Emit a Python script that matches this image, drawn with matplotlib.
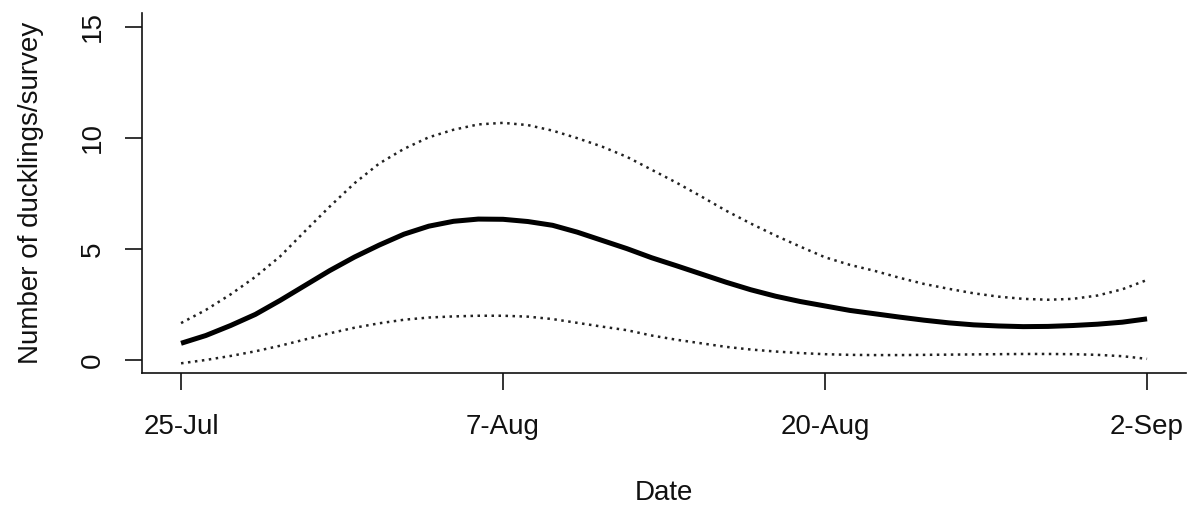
import matplotlib
matplotlib.use("Agg")
import matplotlib.pyplot as plt

# Days since 25 July at which the fitted curves were evaluated
days = list(range(0, 40))

# Fitted number of ducklings per survey
fit = [0.75, 1.10, 1.55, 2.05, 2.68, 3.35, 4.02, 4.63, 5.17, 5.66,
       6.02, 6.24, 6.34, 6.33, 6.23, 6.06, 5.75, 5.38, 5.01, 4.60,
       4.24, 3.87, 3.50, 3.16, 2.87, 2.63, 2.43, 2.23, 2.08, 1.93,
       1.79, 1.67, 1.58, 1.53, 1.50, 1.51, 1.55, 1.61, 1.70, 1.85]

# Upper and lower confidence limits
upper = [1.66, 2.25, 2.95, 3.74, 4.66, 5.79, 6.90, 7.95, 8.84, 9.50,
         10.02, 10.36, 10.60, 10.67, 10.57, 10.32, 9.98, 9.60, 9.14, 8.56,
         7.98, 7.36, 6.72, 6.14, 5.60, 5.10, 4.62, 4.28, 4.01, 3.70,
         3.42, 3.20, 3.00, 2.85, 2.75, 2.71, 2.75, 2.90, 3.18, 3.60]
lower = [-0.15, 0.00, 0.18, 0.39, 0.64, 0.92, 1.20, 1.45, 1.65, 1.81,
         1.91, 1.96, 1.99, 1.99, 1.95, 1.84, 1.67, 1.50, 1.34, 1.10,
         0.91, 0.75, 0.59, 0.47, 0.38, 0.31, 0.26, 0.23, 0.22, 0.22,
         0.23, 0.24, 0.25, 0.26, 0.27, 0.27, 0.26, 0.23, 0.17, 0.05]

x_ticks = [0, 13, 26, 39]
x_labels = ["25-Jul", "7-Aug", "20-Aug", "2-Sep"]
y_ticks = [0, 5, 10, 15]

plt.rcParams["font.family"] = ["Liberation Sans", "DejaVu Sans"]
FS = 20

W, H = 1193, 508
fig = plt.figure(figsize=(W / 100, H / 100), dpi=100)
ax_l, ax_r, ax_t, ax_b = 142.4, 1185.7, 13.3, 373.3
ax = fig.add_axes([ax_l / W, 1 - ax_b / H, (ax_r - ax_l) / W, (ax_b - ax_t) / H])

dotted = (0, (1, 1.8))
ax.plot(days, upper, color="#222222", lw=1.8, linestyle=dotted)
ax.plot(days, lower, color="#222222", lw=1.8, linestyle=dotted)
ax.plot(days, fit, color="black", lw=3.6, solid_capstyle="butt",
        solid_joinstyle="round")

# 4% padding on both axes around the data range
ax.set_xlim(-1.56, 40.56)
ax.set_ylim(-0.6, 15.6)

for side in ("top", "right"):
    ax.spines[side].set_visible(False)
for side in ("left", "bottom"):
    ax.spines[side].set_linewidth(1.2)
    ax.spines[side].set_color("#111111")

ax.set_xticks(x_ticks, x_labels, fontsize=FS)
ax.set_yticks(y_ticks, [str(v) for v in y_ticks], fontsize=FS,
              rotation=90, va="center")
ax.tick_params(axis="both", direction="out", length=12.5, width=1.2,
               color="#111111", labelcolor="#111111")
ax.tick_params(axis="x", pad=17)
ax.tick_params(axis="y", pad=13.5)

ax.set_xlabel("Date", fontsize=FS, color="#111111")
ax.set_ylabel("Number of ducklings/survey", fontsize=FS, color="#111111")
ax.xaxis.set_label_coords(0.5, -(480 - ax_b) / (ax_b - ax_t))
ax.yaxis.set_label_coords(-(ax_l - 44) / (ax_r - ax_l), 0.5)

fig.savefig("out.png", dpi=100, facecolor="white")
